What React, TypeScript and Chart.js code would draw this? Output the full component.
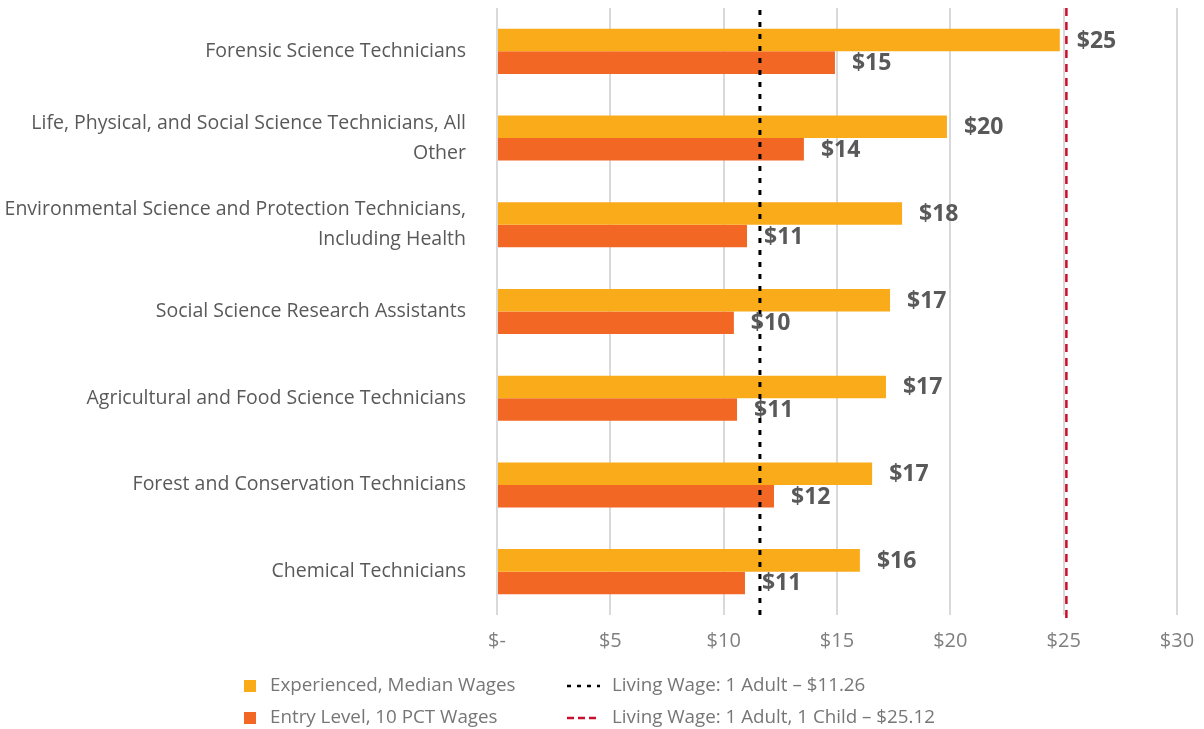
import React, { useEffect, useRef } from "react";
import { Chart, registerables } from "chart.js";

Chart.register(...registerables);

const categories: (string | string[])[] = [
  "Forensic Science Technicians",
  ["Life, Physical, and Social Science Technicians, All", "Other"],
  ["Environmental Science and Protection Technicians,", "Including Health"],
  "Social Science Research Assistants",
  "Agricultural and Food Science Technicians",
  "Forest and Conservation Technicians",
  "Chemical Technicians",
];
const experiencedWages = [24.83, 19.85, 17.87, 17.34, 17.16, 16.55, 16.01];
const entryWages = [14.91, 13.54, 11.03, 10.45, 10.59, 12.22, 10.94];
const xTicks = [0, 5, 10, 15, 20, 25, 30];
const livingWageAdult = 11.6; // drawn position as seen in picture
const livingWageAdultChild = 25.12;
const legendLabels = [
  "Experienced, Median Wages",
  "Entry Level, 10 PCT Wages",
  "Living Wage: 1 Adult – $11.26",
  "Living Wage: 1 Adult, 1 Child – $25.12",
];

const FONT = "'Open Sans', sans-serif";
const COL_EXP = "#FAAB1A";
const COL_ENTRY = "#F26724";
const COL_RED = "#C8102E";
const TEXT = "#595959";

export default function App() {
  const ref = useRef<HTMLCanvasElement>(null);
  useEffect(() => {
    document.body.style.margin = "0";
    const ctx = ref.current!;
    const linesPlugin = {
      id: "lines",
      afterDatasetsDraw(chart: any) {
        const c = chart.ctx;
        const xs = chart.scales.x;
        const { top, bottom } = chart.chartArea;
        c.save();
        c.strokeStyle = "#000";
        c.lineWidth = 3;
        c.setLineDash([5, 7]);
        const x1 = xs.getPixelForValue(livingWageAdult);
        c.beginPath();
        c.moveTo(x1, top + 2);
        c.lineTo(x1, bottom + 6);
        c.stroke();
        c.strokeStyle = COL_RED;
        c.lineWidth = 2.5;
        c.setLineDash([8, 6]);
        const x2 = xs.getPixelForValue(livingWageAdultChild);
        c.beginPath();
        c.moveTo(x2, top);
        c.lineTo(x2, bottom + 6);
        c.stroke();
        c.restore();

        c.save();
        c.font = `bold 23px ${FONT}`;
        c.fillStyle = TEXT;
        c.textBaseline = "middle";
        c.textAlign = "left";
        chart.data.datasets.forEach((ds: any, di: number) => {
          const meta = chart.getDatasetMeta(di);
          meta.data.forEach((el: any, i: number) => {
            const v = ds.data[i];
            c.fillText("$" + Math.round(v), el.x + 17, el.y + 1);
          });
        });
        c.restore();

        c.save();
        c.font = `18.8px ${FONT}`;
        c.textBaseline = "middle";
        c.textAlign = "left";
        const rows = [686, 718];
        c.fillStyle = COL_EXP;
        c.fillRect(244, rows[0] - 6, 12, 12);
        c.fillStyle = COL_ENTRY;
        c.fillRect(244, rows[1] - 6, 12, 12);
        c.fillStyle = "#767676";
        c.fillText(legendLabels[0], 270, rows[0]);
        c.fillText(legendLabels[1], 270, rows[1]);
        c.lineWidth = 2.5;
        c.strokeStyle = "#000";
        c.setLineDash([4, 6]);
        c.beginPath();
        c.moveTo(567, rows[0]);
        c.lineTo(600, rows[0]);
        c.stroke();
        c.strokeStyle = COL_RED;
        c.setLineDash([7, 4]);
        c.beginPath();
        c.moveTo(567, rows[1]);
        c.lineTo(600, rows[1]);
        c.stroke();
        c.fillText(legendLabels[2], 612, rows[0]);
        c.fillText(legendLabels[3], 612, rows[1]);
        c.restore();
      },
    };

    const chart = new Chart(ctx, {
      type: "bar",
      data: {
        labels: categories,
        datasets: [
          {
            label: legendLabels[0],
            data: experiencedWages,
            backgroundColor: COL_EXP,
            barPercentage: 1,
            categoryPercentage: 0.52,
          },
          {
            label: legendLabels[1],
            data: entryWages,
            backgroundColor: COL_ENTRY,
            barPercentage: 1,
            categoryPercentage: 0.52,
          },
        ],
      },
      options: {
        indexAxis: "y",
        responsive: false,
        animation: false,
        layout: { padding: { top: 8, right: 27, bottom: 64, left: 0 } },
        plugins: { legend: { display: false }, tooltip: { enabled: false } },
        scales: {
          x: {
            min: 0,
            max: 30,
            afterBuildTicks: (s: any) => {
              s.ticks = xTicks.map((v) => ({ value: v }));
            },
            afterFit: (s: any) => {
              s.height = 50;
              s.paddingRight = 0;
              s.paddingLeft = 0;
            },
            grid: { color: "#D9D9D9", lineWidth: 2, drawTicks: false },
            border: { display: false },
            ticks: {
              padding: 14,
              color: "#7F7F7F",
              font: { family: FONT, size: 20 },
              callback: (v: any) => (v === 0 ? "$-" : "$" + v),
            },
          },
          y: {
            afterFit: (s: any) => {
              s.width = 497;
              s.paddingTop = 0;
              s.paddingBottom = 0;
            },
            grid: { display: false, drawTicks: false },
            border: { display: false },
            ticks: {
              padding: 31,
              color: TEXT,
              font: { family: FONT, size: 19.5, lineHeight: 1.55 },
            },
          },
        },
      },
      plugins: [linesPlugin],
    });
    return () => chart.destroy();
  }, []);
  return (
    <div style={{ width: 1204, height: 729 }}>
      <canvas ref={ref} width={1204} height={729} />
    </div>
  );
}
